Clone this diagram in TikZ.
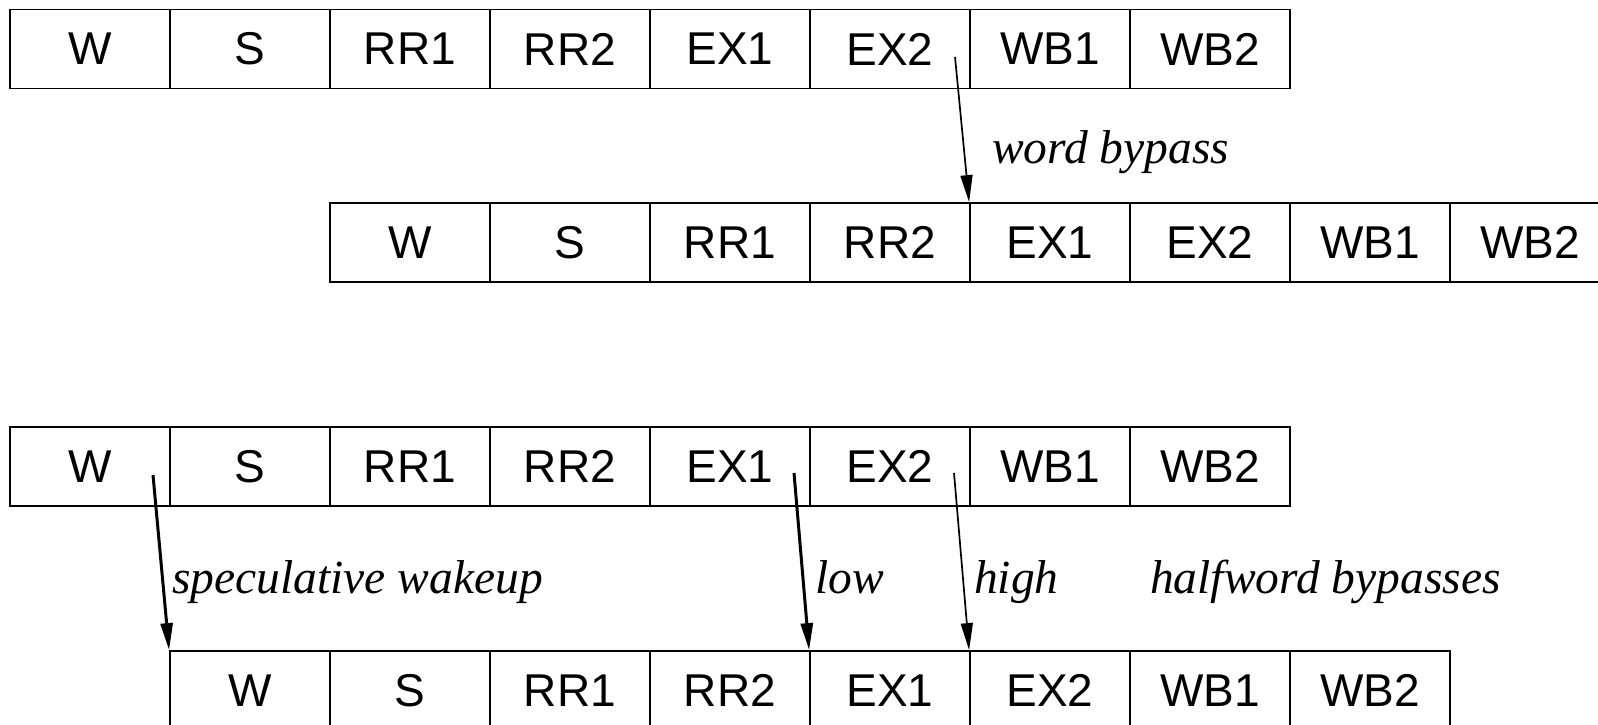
\documentclass[tikz,border=0pt]{standalone}
\usepackage{fontspec}
\setmainfont{Liberation Serif}
\setsansfont{Liberation Sans}
\usetikzlibrary{arrows.meta}
\begin{document}
\begin{tikzpicture}[x=1pt,y=-1pt,
  cell/.style={draw,line width=1.8pt,minimum width=160pt,minimum height=79pt,inner sep=0pt,font=\sffamily\fontsize{46}{52}\selectfont},
  lbl/.style={font=\itshape\fontsize{47.5}{55}\selectfont,anchor=base west,inner sep=0pt},
  byp/.style={-{Triangle[length=27pt,width=12pt]},line width=1.7pt},
  bypthick/.style={byp,line width=3pt}]
\useasboundingbox (0,0) rectangle (1598,725);
\foreach \rw/\xx/\yy in {a/10/49, b/330/242.5, c/10/466.5, d/170/690.5} {
  \foreach \t [count=\i] in {W,S,RR1,RR2,EX1,EX2,WB1,WB2}
    \node[cell] (\rw\i) at ({\xx+160*\i-80},\yy) {\t};
}
\coordinate (sa) at (955,57);
\coordinate (sc1) at (153,475);
\coordinate (sc5) at (794,473);
\coordinate (sc6) at (954,473);
\draw[byp] (sa) -- (b5.north west);
\draw[bypthick] (sc1) -- (d1.north west);
\draw[bypthick] (sc5) -- (d5.north west);
\draw[byp] (sc6) -- (d6.north west);
\node[lbl] (lw) at (992,163) {word bypass};
\node[lbl] (ls) at (172,593) {speculative wakeup};
\node[lbl] (ll) at (815,593) {low};
\node[lbl] (lh) at (974,593) {high};
\node[lbl] (lhb) at (1150,593) {halfword bypasses};
\end{tikzpicture}
\end{document}
